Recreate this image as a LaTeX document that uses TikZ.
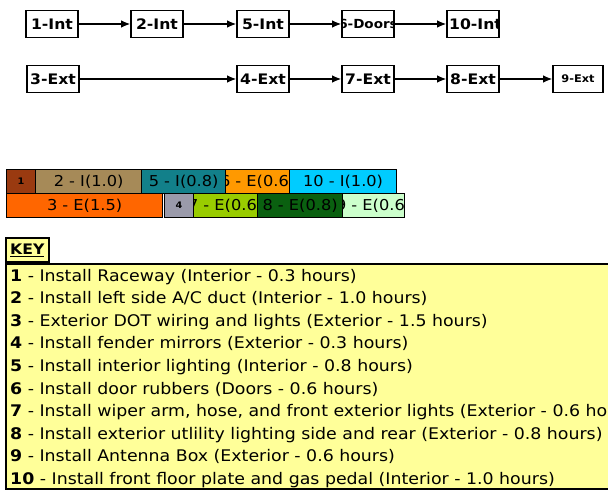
\documentclass[tikz,border=0pt]{standalone}
\usepackage{fontspec}
\setmainfont[FakeStretch=1.08]{DejaVu Sans}
\newfontfamily\keyfam[FakeStretch=1.085]{DejaVu Sans}
\usetikzlibrary{arrows.meta}
\newcommand\dgfont{\bfseries\fontsize{14.5}{16}\selectfont}
\newcommand\dgmid{\bfseries\fontsize{12.5}{14}\selectfont}
\newcommand\dgsmall{\bfseries\fontsize{10.5}{12}\selectfont}
\newcommand\gbfont{\fontsize{15}{17}\selectfont}
\newcommand\gbsmall{\bfseries\fontsize{9}{10}\selectfont}
\newcommand\kyfont{\keyfam\fontsize{16}{19}\selectfont}
\definecolor{keyyel}{HTML}{FFFF99}
\definecolor{cA}{HTML}{9A3A10}
\definecolor{cB}{HTML}{A68A58}
\definecolor{cC}{HTML}{12808A}
\definecolor{cD}{HTML}{FF9900}
\definecolor{cE}{HTML}{00CCFF}
\definecolor{cF}{HTML}{FF6600}
\definecolor{cG}{HTML}{9A9AAA}
\definecolor{cH}{HTML}{99CC00}
\definecolor{cI}{HTML}{0A6010}
\definecolor{cJ}{HTML}{CCFFCC}
\begin{document}
\begin{tikzpicture}[x=1pt,y=-1pt,
  dbox/.style n args={3}{draw, line width=1.6pt, fill=white, minimum width=52pt, minimum height=27pt, inner sep=0pt,
    path picture={\node[font=#2, anchor=center, inner sep=0pt, #3] at (path picture bounding box.center) {#1};}},
  arr/.style={line width=1.3pt, -{Latex[length=9pt,width=7.5pt]}},
  gbar/.style n args={3}{draw, line width=1.2pt, fill=#1, inner sep=0pt, anchor=north west,
    minimum height=24pt, path picture={\node[font=#2, anchor=center, inner sep=0pt] at (path picture bounding box.center) {#3};}},
  ktxt/.style={anchor=base west, inner sep=0pt, font=\kyfont}
]
\useasboundingbox (0,0) rectangle (608,492);
\clip (0,0) rectangle (608,492);
% flow diagram
\node[dbox={1-Int}{\dgfont}{}] (n1) at (52,24) {};
\node[dbox={2-Int}{\dgfont}{}] (n2) at (157,24) {};
\node[dbox={5-Int}{\dgfont}{}] (n5) at (263,24) {};
\node[dbox={6-Doors}{\dgmid}{}] (n6) at (368,24) {};
\node[dbox={10-Int}{\dgfont}{xshift=2.5pt}] (n10) at (473,24) {};
\node[dbox={3-Ext}{\dgfont}{}] (n3) at (53,79) {};
\node[dbox={4-Ext}{\dgfont}{}] (n4) at (263,79) {};
\node[dbox={7-Ext}{\dgfont}{}] (n7) at (368,79) {};
\node[dbox={8-Ext}{\dgfont}{}] (n8) at (473,79) {};
\node[dbox={9-Ext}{\dgsmall}{}, minimum width=50pt] (n9) at (578,79) {};
\draw[arr] (n1) -- (n2);
\draw[arr] (n2) -- (n5);
\draw[arr] (n5) -- (n6);
\draw[arr] (n6) -- (n10);
\draw[arr] (n3) -- (n4);
\draw[arr] (n4) -- (n7);
\draw[arr] (n7) -- (n8);
\draw[arr] (n8) -- (n9);
% gantt bars
\node[gbar={cA}{\gbsmall}{1}, minimum width=29pt] (g1) at (6,169) {};
\node[gbar={cB}{\gbfont}{2 - I(1.0)}, minimum width=106pt] (g2) at (35,169) {};
\node[gbar={cC}{\gbfont}{5 - I(0.8)}, minimum width=84pt] (g5) at (141,169) {};
\node[gbar={cD}{\gbfont}{6 - E(0.6)}, minimum width=64pt] (g6) at (225,169) {};
\node[gbar={cE}{\gbfont}{10 - I(1.0)}, minimum width=107pt] (g10) at (289,169) {};
\node[gbar={cF}{\gbfont}{3 - E(1.5)}, minimum width=156pt] (g3) at (6,193) {};
\node[gbar={cG}{\gbsmall}{4}, minimum width=29pt] (g4) at (164,193) {};
\node[gbar={cH}{\gbfont}{7 - E(0.6)}, minimum width=64pt] (g7) at (193,193) {};
\node[gbar={cI}{\gbfont}{8 - E(0.8)}, minimum width=85pt] (g8) at (257,193) {};
\node[gbar={cJ}{\gbfont}{9 - E(0.6)}, minimum width=62pt] (g9) at (342,193) {};
% key
\node[draw, line width=2pt, fill=keyyel, anchor=north west, minimum width=640pt, minimum height=225pt, inner sep=0pt] (keybox) at (5,263) {};
\node[draw, line width=1.6pt, fill=keyyel, anchor=south west, minimum width=43pt, minimum height=24pt, inner sep=0pt, font=\bfseries\fontsize{14.5}{16}\selectfont] (keylbl) at (5,263) {\underline{KEY}};
\node[ktxt] (k1) at (10,281) {\textbf{1} - Install Raceway (Interior - 0.3 hours)};
\node[ktxt] (k2) at (10,303.6) {\textbf{2} - Install left side A/C duct (Interior - 1.0 hours)};
\node[ktxt] (k3) at (10,326.2) {\textbf{3} - Exterior DOT wiring and lights (Exterior - 1.5 hours)};
\node[ktxt] (k4) at (10,348.8) {\textbf{4} - Install fender mirrors (Exterior - 0.3 hours)};
\node[ktxt] (k5) at (10,371.4) {\textbf{5} - Install interior lighting (Interior - 0.8 hours)};
\node[ktxt] (k6) at (10,394) {\textbf{6} - Install door rubbers (Doors - 0.6 hours)};
\node[ktxt] (k7) at (10,416.6) {\textbf{7} - Install wiper arm, hose, and front exterior lights (Exterior - 0.6 hours)};
\node[ktxt] (k8) at (10,439.2) {\textbf{8} - Install exterior utlility lighting side and rear (Exterior - 0.8 hours)};
\node[ktxt] (k9) at (10,461.8) {\textbf{9} - Install Antenna Box (Exterior - 0.6 hours)};
\node[ktxt] (k10) at (10,484.4) {\textbf{10} - Install front floor plate and gas pedal (Interior - 1.0 hours)};
\end{tikzpicture}
\end{document}
